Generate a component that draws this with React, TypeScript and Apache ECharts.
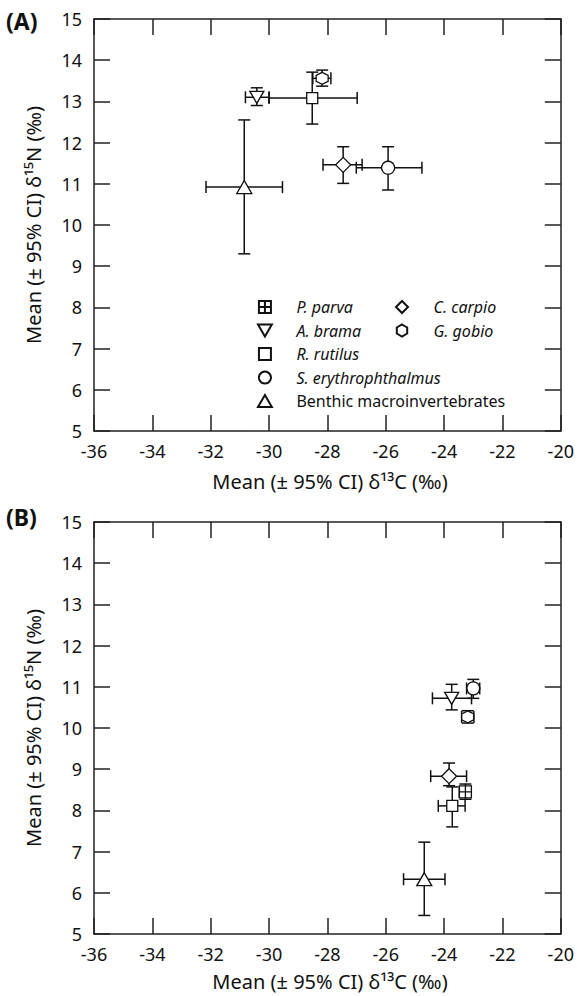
import React, { useEffect, useRef } from "react";
import * as echarts from "echarts";

const species = ["P. parva", "A. brama", "R. rutilus", "S. erythrophthalmus", "Benthic macroinvertebrates", "C. carpio", "G. gobio"];
const italic = [true, true, true, true, false, true, true];

// Panel A (null = species not shown)
const aX = [null, -30.42, -28.52, -25.92, -30.85, -27.46, -28.18];
const aXLo = [null, -30.81, -30.0, -27.01, -32.16, -28.15, -28.5];
const aXHi = [null, -30.0, -26.98, -24.76, -29.54, -26.81, -27.88];
const aY = [null, 13.1, 13.08, 11.39, 10.92, 11.46, 13.56];
const aYLo = [null, 12.9, 12.45, 10.85, 9.3, 11.01, 13.37];
const aYHi = [null, 13.33, 13.71, 11.9, 12.55, 11.9, 13.76];

// Panel B
const bX = [-23.27, -23.74, -23.72, -23.0, -24.68, -23.83, -23.19];
const bXLo = [-23.48, -24.4, -24.2, -23.23, -25.39, -24.46, -23.4];
const bXHi = [-23.07, -23.06, -23.28, -22.78, -23.97, -23.23, -22.98];
const bY = [8.45, 10.72, 8.11, 10.96, 6.33, 8.83, 10.27];
const bYLo = [8.27, 10.44, 7.6, 10.72, 5.45, 8.6, 10.12];
const bYHi = [8.64, 11.06, 8.57, 11.18, 7.23, 9.15, 10.42];

const xMin = -36, xMax = -20, xStep = 2;
const yMin = 5, yMax = 15, yStep = 1;

const symbols = [
  "path://M0,0H10V10H0Z M5,0V10 M0,5H10",
  "path://M0,0L10,0L5,8.66Z",
  "path://M0,0H10V10H0Z",
  "path://M5,0A5,5 0 1,1 4.99,0Z",
  "path://M5,0L10,8.66L0,8.66Z",
  "path://M5,0L10,5L5,10L0,5Z",
  "path://M5,0L9.33,2.5L9.33,7.5L5,10L0.67,7.5L0.67,2.5Z",
];
const symbolSizes: any[] = [12, [14, 12], 11, 13, [15, 13], [15, 15], 12];

const FONT = "Noto Sans";
const INK = "#111";

function App() {
  const ref = useRef<HTMLDivElement>(null);
  useEffect(() => {
    document.body.style.margin = "0";
    const chart = echarts.init(ref.current!, null, { renderer: "svg" });
    const lineStyle = { color: "#222", width: 1.5 };
    const mkX = (g: number, pos: string, labels: boolean) => ({
      type: "value", gridIndex: g, min: xMin, max: xMax, interval: xStep, position: pos,
      axisLine: { show: true, onZero: false, lineStyle },
      axisTick: { show: true, inside: true, length: 16, lineStyle },
      axisLabel: { show: labels, margin: 11, fontSize: 18, fontFamily: FONT, color: INK },
      splitLine: { show: false },
    });
    const mkY = (g: number, pos: string, labels: boolean) => ({
      type: "value", gridIndex: g, min: yMin, max: yMax, interval: yStep, position: pos,
      axisLine: { show: true, onZero: false, lineStyle },
      axisTick: { show: true, inside: true, length: 16, lineStyle },
      axisLabel: { show: labels, margin: 12, fontSize: 18, fontFamily: FONT, color: INK },
      splitLine: { show: false },
    });
    const errRows = (X: any[], XL: any[], XH: any[], Y: any[], YL: any[], YH: any[]) =>
      X.map((x, i) => (x == null ? null : [x, Y[i], XL[i], XH[i], YL[i], YH[i]])).filter((r) => r);
    const renderErr = (params: any, api: any) => {
      const x = api.value(0), y = api.value(1);
      const c = api.coord([x, y]);
      const l = api.coord([api.value(2), y]);
      const r = api.coord([api.value(3), y]);
      const b = api.coord([x, api.value(4)]);
      const t = api.coord([x, api.value(5)]);
      const cap = 6;
      const style = { stroke: INK, lineWidth: 1.5 };
      const ln = (x1: number, y1: number, x2: number, y2: number) => ({ type: "line", shape: { x1, y1, x2, y2 }, style });
      return {
        type: "group",
        children: [
          ln(l[0], c[1], r[0], c[1]),
          ln(l[0], c[1] - cap, l[0], c[1] + cap),
          ln(r[0], c[1] - cap, r[0], c[1] + cap),
          ln(c[0], t[1], c[0], b[1]),
          ln(c[0] - cap, t[1], c[0] + cap, t[1]),
          ln(c[0] - cap, b[1], c[0] + cap, b[1]),
        ],
      };
    };
    const series: any[] = [
      { type: "custom", name: "errA", xAxisIndex: 0, yAxisIndex: 0, renderItem: renderErr, z: 1,
        data: errRows(aX, aXLo, aXHi, aY, aYLo, aYHi), encode: { x: [0, 2, 3], y: [1, 4, 5] } },
      { type: "custom", name: "errB", xAxisIndex: 2, yAxisIndex: 2, renderItem: renderErr, z: 1,
        data: errRows(bX, bXLo, bXHi, bY, bYLo, bYHi), encode: { x: [0, 2, 3], y: [1, 4, 5] } },
    ];
    species.forEach((name, i) => {
      const common = {
        type: "scatter", name, symbol: symbols[i], symbolSize: symbolSizes[i], z: 3,
        itemStyle: { color: "#fff", borderColor: INK, borderWidth: 1.3, opacity: 1 },
        emphasis: { disabled: true },
      };
      series.push({ ...common, xAxisIndex: 0, yAxisIndex: 0, data: aX[i] == null ? [] : [[aX[i], aY[i]]] });
      series.push({ ...common, xAxisIndex: 2, yAxisIndex: 2, data: [[bX[i], bY[i]]] });
    });
    const legendBase = {
      orient: "vertical", itemWidth: 53, itemHeight: 12, itemGap: 7.5, padding: 0, selectedMode: false,
      symbolKeepAspect: true,
      textStyle: { fontSize: 16, fontFamily: FONT, color: INK },
    };
    const legendItem = (i: number) => ({ name: species[i], textStyle: { fontStyle: italic[i] ? "italic" : "normal" } });
    const xTitle = "Mean (± 95% CI) δ¹³C (‰)";
    const yTitle = "Mean (± 95% CI) δ¹⁵N (‰)";
    const txt = (text: string, x: number, y: number, extra: any = {}) => ({
      type: "text", x, y, rotation: extra.rotation || 0,
      style: { text, fontSize: extra.fontSize || 20, fontWeight: extra.fontWeight || "normal", fontFamily: FONT, fill: INK,
        align: extra.align || "center", verticalAlign: "middle" },
    });
    chart.setOption({
      animation: false,
      textStyle: { fontFamily: FONT },
      grid: [
        { left: 94, top: 19, width: 469, height: 412 },
        { left: 94, top: 522, width: 469, height: 412 },
      ],
      xAxis: [mkX(0, "bottom", true), mkX(0, "top", false), mkX(1, "bottom", true), mkX(1, "top", false)],
      yAxis: [mkY(0, "left", true), mkY(0, "right", false), mkY(1, "left", true), mkY(1, "right", false)],
      legend: [
        { ...legendBase, left: 257, top: 299, data: [0, 1, 2, 3, 4].map(legendItem) },
        { ...legendBase, left: 395, top: 299, data: [5, 6].map(legendItem) },
      ],
      graphic: [
        txt("(A)", 6, 21, { fontSize: 23, fontWeight: "bold", align: "left" }),
        txt("(B)", 6, 517, { fontSize: 23, fontWeight: "bold", align: "left" }),
        txt(xTitle, 330, 481),
        txt(xTitle, 330, 981),
        txt(yTitle, 33, 225, { rotation: Math.PI / 2 }),
        txt(yTitle, 33, 728, { rotation: Math.PI / 2 }),
      ],
      series,
    });
    return () => chart.dispose();
  }, []);
  return <div ref={ref} style={{ width: 577, height: 996 }} />;
}

export default App;
